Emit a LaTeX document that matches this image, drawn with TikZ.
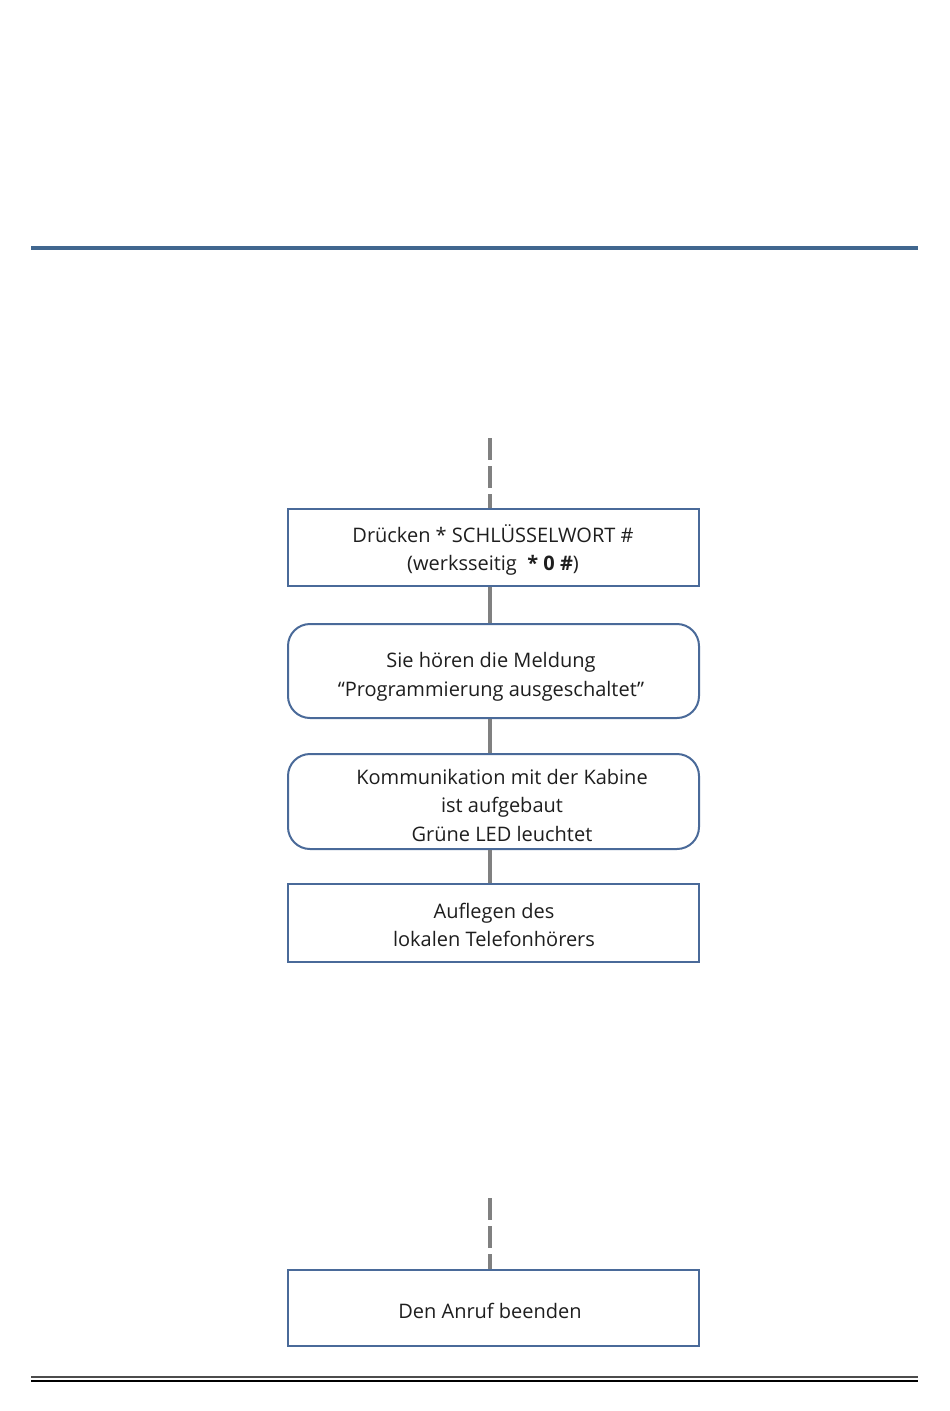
\documentclass[tikz,border=0pt]{standalone}
\usepackage{fontspec}
\setmainfont{Open Sans}
\definecolor{boxblue}{HTML}{4A6A99}
\definecolor{rule}{HTML}{41678F}
\definecolor{conn}{HTML}{808080}
\definecolor{txt}{HTML}{1E1E1E}
\begin{document}
\begin{tikzpicture}[x=1pt,y=-1pt,
  every node/.style={font=\fontsize{20}{28.5}\selectfont, text=txt, align=center},
  stepbox/.style={draw=boxblue, line width=2pt, minimum width=411pt, inner sep=0pt},
  roundbox/.style={stepbox, rounded corners=22pt},
  link/.style={draw=conn, line width=4.5pt},
  dashlink/.style={link, dash pattern=on 22pt off 6pt}]
\useasboundingbox (0,0) rectangle (950,1411);
\draw[rule, line width=4pt] (31,248) -- (918,248);
\draw[color=black!70, line width=2pt] (31,1377) -- (918,1377);
\draw[color=black, line width=1.2pt] (31,1381) -- (918,1381);

\node[stepbox, minimum height=77pt] (b1) at (493.5,547.5) {};
\node (t1) at (493,550) {Drücken * SCHLÜSSELWORT \#\\(werksseitig \ \textbf{* 0 \#})};
\node[roundbox, minimum height=94pt] (b2) at (493.5,671) {};
\node (t2) at (491,677) {Sie hören die Meldung\\“Programmierung ausgeschaltet”};
\node[roundbox, minimum height=95pt] (b3) at (493.5,801.5) {};
\node (t3) at (502,805) {Kommunikation mit der Kabine\\ist aufgebaut\\Grüne LED leuchtet};
\node[stepbox, minimum height=78pt] (b4) at (493.5,923) {};
\node (t4) at (494,925) {Auflegen des\\lokalen Telefonhörers};
\node[stepbox, minimum height=76pt] (b5) at (493.5,1308) {};
\node (t5) at (490,1311) {Den Anruf beenden};

\coordinate (s1) at (490,438);
\coordinate (s5) at (490,1198);
\draw[dashlink] (s1) -- (s1 |- b1.north);
\draw[link] (b1.south -| s1) -- (b2.north -| s1);
\draw[link] (b2.south -| s1) -- (b3.north -| s1);
\draw[link] (b3.south -| s1) -- (b4.north -| s1);
\draw[dashlink] (s5) -- (s5 |- b5.north);
\end{tikzpicture}
\end{document}
